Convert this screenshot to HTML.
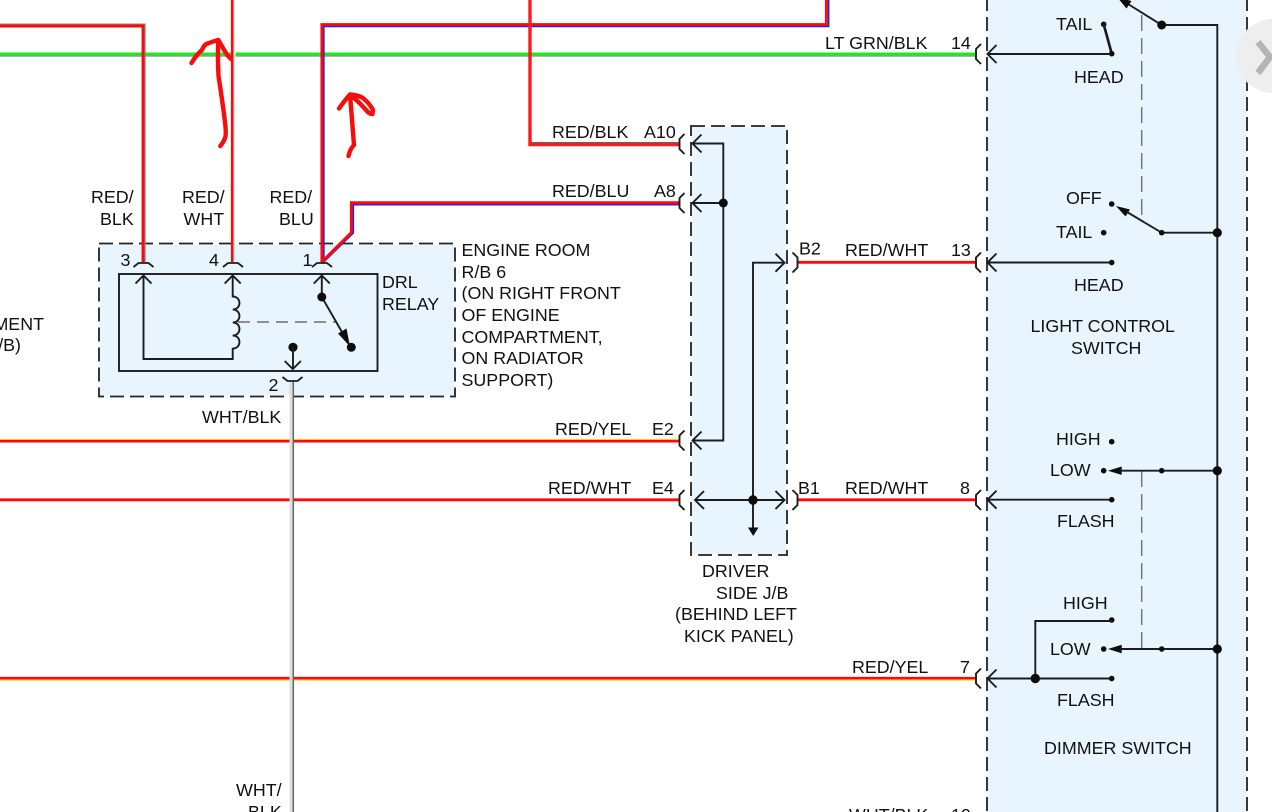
<!DOCTYPE html>
<html><head><meta charset="utf-8"><style>
html,body{margin:0;padding:0;background:#fff;width:1272px;height:812px;overflow:hidden}
svg{display:block}
text{font-family:"Liberation Sans",sans-serif;font-size:17.85px;fill:#111}
.l{fill:none;stroke:#1c1c1c;stroke-width:1.9}
.d{fill:#0c0c0c}
</style></head><body>
<svg width="1272" height="812" viewBox="0 0 1272 812" xmlns="http://www.w3.org/2000/svg">
<defs>
<path id="cl" d="M5,-10 L0,-5 V5 L5,10" fill="none" stroke="#1c1c1c" stroke-width="1.9"/>
<path id="cr" d="M-5,-10 L0,-5 V5 L-5,10" fill="none" stroke="#1c1c1c" stroke-width="1.9"/>
<path id="al" d="M9,-9 L0,0 L9,9" fill="none" stroke="#1c1c1c" stroke-width="1.9"/>
<path id="ar" d="M-9,-9 L0,0 L-9,9" fill="none" stroke="#1c1c1c" stroke-width="1.9"/>
<path id="cu" d="M-10,5 L-5,1 H5 L10,5" fill="none" stroke="#1c1c1c" stroke-width="1.8"/>
<path id="cd" d="M-10,-2 L-5,2 H5 L10,-2" fill="none" stroke="#1c1c1c" stroke-width="1.8"/>
<path id="au" d="M-8,8 L0,0 L8,8" fill="none" stroke="#1c1c1c" stroke-width="1.9"/>
</defs>

<!-- fills -->
<rect x="99" y="243.5" width="356" height="153" fill="#e8f5fe" stroke="#fff" stroke-width="2"/>
<rect x="691" y="126" width="96" height="429" fill="#e8f5fe" stroke="#fff" stroke-width="2"/>
<rect x="987" y="-5" width="260" height="830" fill="#e8f5fe" stroke="#fff" stroke-width="2"/>
<g fill="none" stroke="#222" stroke-width="1.8" stroke-dasharray="14 6">
<rect x="99" y="243.5" width="356" height="153"/>
<rect x="691" y="126" width="96" height="429"/>
<path d="M987,-3 V812"/><path d="M1247,-3 V812"/>
</g>

<!-- green wire -->
<path d="M0,56 H975" stroke="#999" stroke-width="1.6" fill="none"/>
<path d="M0,54 H976" stroke="#14f014" stroke-width="3" fill="none"/>

<!-- RED/BLU wire to top right -->
<path d="M323.8,262 V26.4 H828.6 V0" stroke="#2020f5" stroke-width="1.7" fill="none"/>
<path d="M321.9,262 V24.6 H826.4 V0" stroke="#fa0a0a" stroke-width="2.9" fill="none"/>

<!-- RED/BLK wires -->
<path d="M0,24.3 H144.9 V262" stroke="#888" stroke-width="1.5" fill="none"/>
<path d="M0,26 H143 V262" stroke="#fa0a0a" stroke-width="2.9" fill="none"/>
<path d="M531,142.6 H679" stroke="#666" stroke-width="1.2" fill="none"/>
<path d="M530,0 V144.6 H679" stroke="#fa1c1c" stroke-width="3.4" fill="none"/>

<!-- RED/WHT at 232 -->
<path d="M234,50 V60" stroke="#fff" stroke-width="3" fill="none"/>
<path d="M234,0 V262" stroke="#ddd" stroke-width="1.2" fill="none"/>
<path d="M232.2,0 V262" stroke="#fa0a0a" stroke-width="2.6" fill="none"/>

<!-- RED/BLU to A8 -->
<path d="M323.6,262 L353.2,233 V204.7 H679" stroke="#2020f5" stroke-width="1.7" fill="none"/>
<path d="M321.9,262 L351.4,232.5 V202.8 H679" stroke="#fa0a0a" stroke-width="3" fill="none"/>

<!-- horizontal left wires -->
<path d="M0,439.6 H679" stroke="#ffe23a" stroke-width="1.5" fill="none"/>
<path d="M0,441.2 H679" stroke="#fa0a0a" stroke-width="2.6" fill="none"/>
<path d="M0,499.8 H679" stroke="#fa0a0a" stroke-width="2.9" fill="none"/>
<path d="M0,680 H975" stroke="#ffe23a" stroke-width="1.6" fill="none"/>
<path d="M0,678.2 H975" stroke="#fa0a0a" stroke-width="2.6" fill="none"/>
<path d="M798,262.3 H975" stroke="#fa0a0a" stroke-width="2.9" fill="none"/>
<path d="M798,499.8 H975" stroke="#fa0a0a" stroke-width="2.9" fill="none"/>

<!-- WHT/BLK wire -->
<path d="M291,381 V812" stroke="#ddd" stroke-width="3" fill="none"/>
<path d="M293.3,381 V812" stroke="#666" stroke-width="1.5" fill="none"/>

<!-- Relay -->
<rect x="119" y="274" width="258.5" height="97" fill="none" stroke="#1c1c1c" stroke-width="1.9"/>
<use href="#cu" x="143.5" y="262"/><use href="#cu" x="233" y="262"/><use href="#cu" x="322" y="262"/>
<use href="#cd" x="292.5" y="379"/>
<use href="#au" x="143.5" y="275.5"/><use href="#au" x="232.7" y="275.5"/><use href="#au" x="321.8" y="275.5"/>
<path class="l" d="M143.5,276 V359 H232.7 V348 M232.7,276 V296.5 c9,0 9,13 0,13 c9,0 9,13 0,13 c9,0 9,13 0,13 c9,0 9,13 0,13"/>
<path d="M238,322 H337" fill="none" stroke="#555" stroke-width="1.3" stroke-dasharray="12 7"/>
<path class="l" d="M321.8,276 V297 L346,339"/>
<path class="d" d="M350,346.5 L338,333.5 L346.5,328.5 Z"/>
<circle class="d" cx="321.8" cy="297" r="4.5"/>
<circle class="d" cx="351.3" cy="347.3" r="4.5"/>
<circle class="d" cx="293" cy="347.3" r="4.6"/>
<path class="l" d="M293,347 V369 M284.7,361 L292.8,369 L300.9,361"/>

<!-- Driver J/B -->
<use href="#cl" x="679.5" y="144"/><use href="#cl" x="679.5" y="203"/><use href="#cl" x="679.5" y="440.5"/><use href="#cl" x="679.5" y="500"/>
<use href="#cr" x="797.5" y="262.5"/><use href="#cr" x="797.5" y="500"/>
<path class="l" d="M693,143.5 H723.3 V440.5 H693 M693,203 H723"/>
<use href="#al" x="692.5" y="143.5"/><use href="#al" x="692.5" y="203"/><use href="#al" x="692.5" y="440.5"/>
<path class="l" d="M784,262.7 H753 V528 M695,500 H784"/>
<use href="#ar" x="784.5" y="262.7"/><use href="#ar" x="784.5" y="500"/><use href="#al" x="695" y="500"/>
<path class="d" d="M748,527.5 H758.5 L753.2,536 Z"/>
<circle class="d" cx="723.3" cy="203" r="4.5"/>
<circle class="d" cx="753" cy="500" r="4.7"/>

<!-- Right side switch -->
<use href="#cl" x="976" y="54"/><use href="#cl" x="976" y="262.5"/><use href="#cl" x="976" y="500"/><use href="#cl" x="976" y="678.5"/>
<use href="#al" x="987.5" y="54"/><use href="#al" x="987.5" y="262.5"/><use href="#al" x="987.5" y="499.7"/><use href="#al" x="987.5" y="678.5"/>
<path d="M1141.7,15 V218 M1141.7,471 V649" fill="none" stroke="#777" stroke-width="1.5" stroke-dasharray="16 7"/>
<path class="l" d="M1217.3,812 V25 H1161.7 L1128,4"/>
<path class="d" d="M1117,-3 L1131.5,1 L1126.5,8.5 Z"/>
<circle class="d" cx="1161.7" cy="25" r="4.5"/>
<circle class="d" cx="1103.7" cy="24.3" r="2.8"/>
<path d="M1103.7,24.3 L1111.7,53.5" stroke="#1c1c1c" stroke-width="2.7" fill="none"/>
<circle class="d" cx="1111.7" cy="53.7" r="2.8"/>
<path class="l" d="M988,54 H1111.7 M988,262.5 H1111.7 M988,499.7 H1111.7 M988,678.5 H1111.7"/>
<circle class="d" cx="1111.7" cy="204" r="2.8"/>
<path class="d" d="M1116,206 L1130,209.5 L1125.5,216.5 Z"/>
<path class="l" d="M1127,212 L1161.7,232.7 H1217.3"/>
<circle class="d" cx="1161.7" cy="232.7" r="2.8"/>
<circle class="d" cx="1217.3" cy="232.7" r="4.6"/>
<circle class="d" cx="1103.7" cy="232.7" r="2.8"/>
<circle class="d" cx="1111.7" cy="262.5" r="2.8"/>
<circle class="d" cx="1111.7" cy="441.7" r="2.8"/>
<circle class="d" cx="1103.7" cy="470.7" r="2.8"/>
<path class="d" d="M1108,470.7 L1121.7,466.5 V474.9 Z"/>
<path class="l" d="M1120,470.7 H1217.3"/>
<circle class="d" cx="1161.7" cy="470.7" r="2.8"/>
<circle class="d" cx="1217.3" cy="470.7" r="4.6"/>
<circle class="d" cx="1111.7" cy="499.7" r="2.8"/>
<circle class="d" cx="1111.7" cy="620" r="2.8"/>
<path class="l" d="M1111.7,621 H1035.3 V678.5"/>
<circle class="d" cx="1035.3" cy="678.5" r="4.7"/>
<circle class="d" cx="1103.7" cy="649" r="2.8"/>
<path class="d" d="M1108,649 L1121.7,644.8 V653.2 Z"/>
<path class="l" d="M1120,649 H1217.3"/>
<circle class="d" cx="1161.7" cy="649" r="2.8"/>
<circle class="d" cx="1217.3" cy="649" r="4.6"/>
<circle class="d" cx="1111.7" cy="678.5" r="2.8"/>

<!-- Hand-drawn arrows -->
<g fill="none" stroke="#f80c0c" stroke-width="4.4" stroke-linecap="round" stroke-linejoin="round">
<path d="M191.5,63 Q197,54 202,50 Q204,44 209,43 Q214,41 218.3,40 Q217.5,58 218.5,76 Q222,98 225,122 Q226.5,135 225,138 Q223,143 220.3,146"/>
<path d="M218.3,40 Q224,50 228,56 L231,59"/>
<path d="M339,108.5 Q345,100 350,94.5 Q358,95 363,98 Q370,104 373,110 L372.5,114 Q369,114 366,110 Q358,101 350,94.5 Q352,120 354,145 Q350,149 348.5,156"/>
</g>

<!-- Labels -->
<text x="91" y="203">RED/</text><text x="100" y="225">BLK</text>
<text x="182" y="203">RED/</text><text x="183.5" y="225">WHT</text>
<text x="269.5" y="203">RED/</text><text x="279" y="225">BLU</text>
<text x="120.5" y="266">3</text><text x="209" y="266">4</text><text x="302.5" y="266">1</text><text x="268.5" y="391">2</text>
<text x="202" y="423">WHT/BLK</text>
<text x="382" y="288">DRL</text><text x="382" y="310">RELAY</text>
<text x="461.5" y="256">ENGINE ROOM</text>
<text x="461.5" y="278">R/B 6</text>
<text x="461.5" y="299">(ON RIGHT FRONT</text>
<text x="461.5" y="321">OF ENGINE</text>
<text x="461.5" y="343">COMPARTMENT,</text>
<text x="461.5" y="364">ON RADIATOR</text>
<text x="461.5" y="386">SUPPORT)</text>
<text x="44" y="330" text-anchor="end">MENT</text>
<text x="21" y="351" text-anchor="end">/B)</text>

<text x="552" y="138">RED/BLK</text><text x="644" y="138">A10</text>
<text x="552" y="197">RED/BLU</text><text x="654" y="197">A8</text>
<text x="555" y="435">RED/YEL</text><text x="652" y="435">E2</text>
<text x="548" y="494">RED/WHT</text><text x="652" y="494">E4</text>
<text x="799" y="254.5">B2</text><text x="845" y="256">RED/WHT</text><text x="951" y="256">13</text>
<text x="798" y="494">B1</text><text x="845" y="494">RED/WHT</text><text x="960" y="494">8</text>
<text x="852" y="673">RED/YEL</text><text x="960" y="673">7</text>
<text x="825" y="49">LT GRN/BLK</text><text x="951" y="49">14</text>
<text x="849" y="821">WHT/BLK</text><text x="951" y="821">10</text>
<text x="236" y="796">WHT/</text><text x="248" y="818">BLK</text>

<text x="702" y="577">DRIVER</text>
<text x="716" y="599">SIDE J/B</text>
<text x="675" y="620">(BEHIND LEFT</text>
<text x="684" y="642">KICK PANEL)</text>

<text x="1056" y="30">TAIL</text><text x="1074" y="83">HEAD</text>
<text x="1066" y="204">OFF</text><text x="1056" y="238">TAIL</text><text x="1074" y="291">HEAD</text>
<text x="1030.5" y="332">LIGHT CONTROL</text><text x="1071" y="354">SWITCH</text>
<text x="1056" y="445">HIGH</text><text x="1050" y="476">LOW</text><text x="1057" y="527">FLASH</text>
<text x="1063" y="609">HIGH</text><text x="1050" y="655">LOW</text><text x="1057" y="706">FLASH</text>
<text x="1044" y="754">DIMMER SWITCH</text>

<!-- overlay button -->
<circle cx="1273" cy="56" r="37" fill="#eeeeee"/>
<path d="M1258,42 L1270,57 L1258,73" fill="none" stroke="#b4b4b4" stroke-width="6.5"/>
</svg>
</body></html>
